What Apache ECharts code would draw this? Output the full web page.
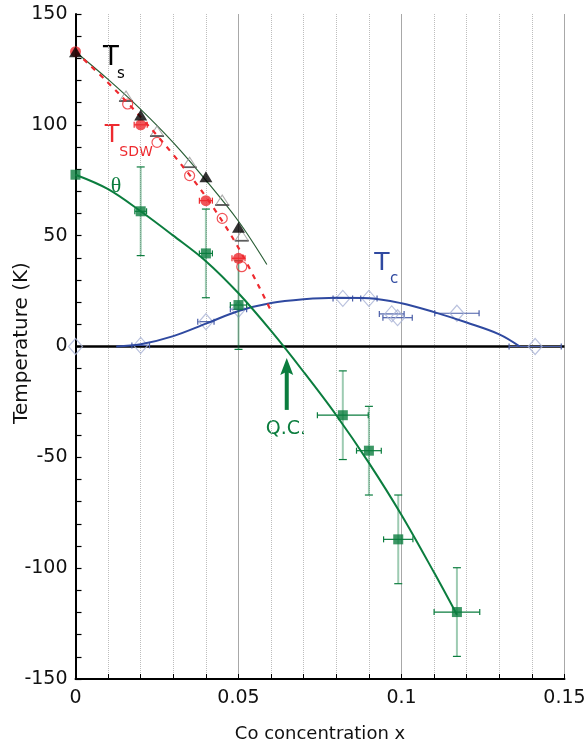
<!DOCTYPE html>
<html>
<head>
<meta charset="utf-8">
<script src="https://cdn.jsdelivr.net/npm/echarts@6/dist/echarts.min.js"></script>
<style>html,body{margin:0;padding:0;background:#fff}#c{width:587px;height:748px}</style>
</head>
<body>
<div id="c"></div>
<script>
// ---- data ----
const xTickLabels = ['0', '0.05', '0.1', '0.15'];
const yTickLabels = ['-150', '-100', '-50', '0', '50', '100', '150'];

// Ts : structural transition
const tsFilled = [[0, 133], [0.02, 104.4], [0.04, 76.6], [0.05, 53.8]];
const tsOpen = [[0.0155, 113], [0.025, 97.2], [0.035, 83.1], [0.045, 66.1], [0.051, 50]];
const tsLine = [[0, 133], [0.01, 120.5], [0.02, 107], [0.03, 92], [0.04, 75], [0.05, 56.5], [0.0587, 37]];

// T_SDW
const sdwFilled = [[0, 133], [0.02, 100], [0.04, 65.8], [0.05, 39.8]];
const sdwFilledXErr = [0, 0.002, 0.002, 0.002];
const sdwOpen = [[0.016, 109.4], [0.025, 92.1], [0.035, 77.1], [0.045, 57.8], [0.051, 36]];
const sdwLine = [[0, 133], [0.01, 119], [0.02, 103.5], [0.03, 86.5], [0.04, 67.5], [0.05, 44.5], [0.06, 16]];

// theta (Weiss temperature)
const thetaPts = [[0, 77.5], [0.02, 61], [0.04, 42], [0.05, 18.7], [0.082, -31], [0.09, -47], [0.099, -87], [0.117, -119.8]];
const thetaXErr = [0, 0.0018, 0.002, 0.0025, 0.0078, 0.0038, 0.0045, 0.007];
const thetaYErr = [0, 20, 20, 20, 20, 20, 20, 20];
const thetaLine = [[0, 77.5], [0.01, 71], [0.02, 61], [0.03, 50], [0.04, 38.5], [0.05, 24], [0.06, 7],
  [0.07, -11.5], [0.08, -31], [0.09, -52.5], [0.1, -76], [0.11, -102], [0.117, -121]];

// Tc (superconductivity)
const tcPts = [[0, 0], [0.02, 0.5], [0.04, 11.2], [0.05, 16.8], [0.082, 21.7], [0.09, 21.7], [0.097, 14.7], [0.0988, 13], [0.117, 15], [0.141, 0]];
const tcXErr = [0, 0.0027, 0.0025, 0.0025, 0.003, 0.0025, 0.0038, 0.0045, 0.0068, 0.008];
const tcLine = [[0.0125, 0], [0.02, 1], [0.03, 4.7], [0.04, 10.3], [0.05, 16], [0.06, 19.6], [0.07, 21.3], [0.08, 22],
  [0.09, 21.8], [0.1, 19.5], [0.11, 15.5], [0.12, 10.8], [0.13, 5.5], [0.1363, 0]];

const zeroLine = [[0, 0], [0.15, 0]];
const qcArrow = [[0.0648, -28.6], [0.0648, -9]];

// ---- styles ----
const GREEN = '#0b7d3e';
const RED = '#ee2a2f';
const BLUE = '#2f49a0';
const DIAM = '#a9b3d6';
const FONT = '"DejaVu Sans", Verdana, sans-serif';

function withErr(pts, ex, ey) {
  return pts.map((p, i) => [p[0], p[1], ex ? ex[i] : 0, ey ? ey[i] : 0]);
}

function errRender(xColor, yColor, yWidth, capColor) {
  return function (params, api) {
    const x = api.value(0), y = api.value(1), ex = api.value(2), ey = api.value(3);
    const ch = [];
    if (ey > 0) {
      const t = api.coord([x, y + ey]), b = api.coord([x, y - ey]);
      ch.push({ type: 'line', shape: { x1: t[0], y1: t[1], x2: b[0], y2: b[1] }, style: { stroke: yColor, lineWidth: yWidth } });
      ch.push({ type: 'line', shape: { x1: t[0] - 4, y1: t[1], x2: t[0] + 4, y2: t[1] }, style: { stroke: capColor, lineWidth: 1.2 } });
      ch.push({ type: 'line', shape: { x1: b[0] - 4, y1: b[1], x2: b[0] + 4, y2: b[1] }, style: { stroke: capColor, lineWidth: 1.2 } });
    }
    if (ex > 0) {
      const l = api.coord([x - ex, y]), r = api.coord([x + ex, y]);
      ch.push({ type: 'line', shape: { x1: l[0], y1: l[1], x2: r[0], y2: r[1] }, style: { stroke: xColor, lineWidth: 1.2 } });
      ch.push({ type: 'line', shape: { x1: l[0], y1: l[1] - 3, x2: l[0], y2: l[1] + 3 }, style: { stroke: xColor, lineWidth: 1.2 } });
      ch.push({ type: 'line', shape: { x1: r[0], y1: r[1] - 3, x2: r[0], y2: r[1] + 3 }, style: { stroke: xColor, lineWidth: 1.2 } });
    }
    return { type: 'group', children: ch };
  };
}

// black base bar under the open triangles
function baseRender(params, api) {
  const p = api.coord([api.value(0), api.value(1)]);
  return { type: 'line', shape: { x1: p[0] - 7, y1: p[1] + 5, x2: p[0] + 7, y2: p[1] + 5 }, style: { stroke: '#000', lineWidth: 1.5 } };
}

const chart = echarts.init(document.getElementById('c'), null, { renderer: 'canvas' });

const option = {
  animation: false,
  backgroundColor: '#fff',
  grid: { left: 75.5, right: 22.5, top: 14, bottom: 69, containLabel: false, outerBoundsMode: 'none' },
  xAxis: {
    type: 'value', min: 0, max: 0.15, interval: 0.05,
    name: 'Co concentration x', nameLocation: 'middle', nameGap: 46,
    nameTextStyle: { fontFamily: FONT, fontSize: 18, color: '#111' },
    axisLine: { show: true, onZero: false, lineStyle: { color: '#000', width: 2 } },
    axisTick: { show: true, inside: true, length: 5, lineStyle: { color: '#000', width: 1 } },
    minorTick: { show: true, splitNumber: 5, length: 5, lineStyle: { color: '#000', width: 1 } },
    axisLabel: {
      fontFamily: FONT, fontSize: 19, color: '#111', margin: 10,
      formatter: function (v) { const i = Math.round(v / 0.05); return xTickLabels[i] !== undefined ? xTickLabels[i] : ''; }
    },
    splitLine: { show: true, lineStyle: { color: '#a8a8a8', width: 1 } },
    minorSplitLine: { show: true, lineStyle: { color: '#bdbdbd', width: 1, type: 'dotted' } }
  },
  yAxis: {
    type: 'value', min: -150, max: 150, interval: 50,
    axisLine: { show: true, onZero: false, lineStyle: { color: '#000', width: 2 } },
    axisTick: { show: true, inside: true, length: 6, lineStyle: { color: '#000', width: 1.2 } },
    minorTick: { show: true, splitNumber: 5, length: 6, lineStyle: { color: '#000', width: 1.2 } },
    axisLabel: {
      fontFamily: FONT, fontSize: 19, color: '#111', margin: 8,
      formatter: function (v) { const i = Math.round((v + 150) / 50); return yTickLabels[i] !== undefined ? yTickLabels[i] : ''; }
    },
    splitLine: { show: false }
  },
  series: [
    { type: 'line', data: zeroLine, symbol: 'none', lineStyle: { color: '#000', width: 2.6 }, z: 2, silent: true },
    // Tc
    { type: 'custom', data: withErr(tcPts, tcXErr, null), renderItem: errRender('#4a5ea8', BLUE, 1, BLUE), encode: { x: 0, y: 1 }, z: 3 },
    { type: 'scatter', data: tcPts, symbol: 'diamond', symbolSize: [14, 16],
      itemStyle: { color: 'rgba(255,255,255,0)', borderColor: DIAM, borderWidth: 1.2 }, z: 4 },
    { type: 'line', data: tcLine, smooth: 0.35, symbol: 'none', lineStyle: { color: BLUE, width: 2 }, z: 5 },
    // theta
    { type: 'line', data: thetaLine, smooth: 0.35, symbol: 'none', lineStyle: { color: GREEN, width: 2 }, z: 6 },
    { type: 'custom', data: withErr(thetaPts, thetaXErr, thetaYErr), renderItem: errRender(GREEN, 'rgba(11,125,62,0.4)', 2, GREEN), encode: { x: 0, y: 1 }, z: 7 },
    { type: 'scatter', data: thetaPts, symbol: 'rect', symbolSize: 10, itemStyle: { color: GREEN }, z: 8 },
    // Ts
    { type: 'line', data: tsLine, smooth: 0.35, symbol: 'none', lineStyle: { color: '#2a5e36', width: 1.2 }, z: 9 },
    { type: 'scatter', data: tsOpen, symbol: 'triangle', symbolSize: [13, 10],
      itemStyle: { color: 'rgba(255,255,255,0)', borderColor: '#9a9a9a', borderWidth: 1 }, z: 10 },
    { type: 'custom', data: tsOpen, renderItem: baseRender, encode: { x: 0, y: 1 }, z: 10 },
    // SDW
    { type: 'line', data: sdwLine, smooth: 0.35, symbol: 'none', lineStyle: { color: RED, width: 2.2, type: [5, 6] }, z: 11 },
    { type: 'scatter', data: sdwOpen, symbol: 'circle', symbolSize: 10,
      itemStyle: { color: 'rgba(255,255,255,0)', borderColor: RED, borderWidth: 1.2 }, z: 12 },
    { type: 'custom', data: withErr(sdwFilled, sdwFilledXErr, null), renderItem: errRender(RED, RED, 1, RED), encode: { x: 0, y: 1 }, z: 12 },
    { type: 'scatter', data: sdwFilled, symbol: 'circle', symbolSize: 11, itemStyle: { color: RED }, z: 13 },
    { type: 'scatter', data: tsFilled, symbol: 'triangle', symbolSize: [13, 11], itemStyle: { color: '#000' }, z: 14 },
    // Q.C. arrow
    { type: 'line', data: [
        { value: qcArrow[0], symbol: 'none' },
        { value: qcArrow[1], symbol: 'path://M0,0 L10,16 L0,13 L-10,16 Z', symbolSize: [13, 17] }
      ], showSymbol: true, symbol: 'none', lineStyle: { color: GREEN, width: 4 }, itemStyle: { color: GREEN }, z: 15 }
  ],
  graphic: [
    { type: 'text', x: 22, y: 343, rotation: Math.PI / 2,
      style: { text: 'Temperature (K)', align: 'center', verticalAlign: 'middle', font: '20px ' + FONT, fill: '#111' } },
    { type: 'text', style: { text: 'T', x: 111, y: 58, align: 'center', verticalAlign: 'middle', font: '26px ' + FONT, fill: '#000' } },
    { type: 'text', style: { text: 's', x: 121, y: 74, align: 'center', verticalAlign: 'middle', font: '15px ' + FONT, fill: '#000' } },
    { type: 'text', style: { text: 'T', x: 112, y: 136, align: 'center', verticalAlign: 'middle', font: '24px ' + FONT, fill: RED } },
    { type: 'text', style: { text: 'SDW', x: 136, y: 152, align: 'center', verticalAlign: 'middle', font: '14px ' + FONT, fill: RED } },
    { type: 'text', style: { text: 'θ', x: 116, y: 186, align: 'center', verticalAlign: 'middle', font: '22px "Liberation Serif", serif', fill: GREEN } },
    { type: 'text', style: { text: 'T', x: 382, y: 263, align: 'center', verticalAlign: 'middle', font: '25px ' + FONT, fill: BLUE } },
    { type: 'text', style: { text: 'c', x: 394, y: 279, align: 'center', verticalAlign: 'middle', font: '15px ' + FONT, fill: BLUE } },
    { type: 'text', style: { text: 'Q.C.', x: 286, y: 429, align: 'center', verticalAlign: 'middle', font: '19px ' + FONT, fill: GREEN } }
  ]
};
chart.setOption(option);
</script>
</body>
</html>
